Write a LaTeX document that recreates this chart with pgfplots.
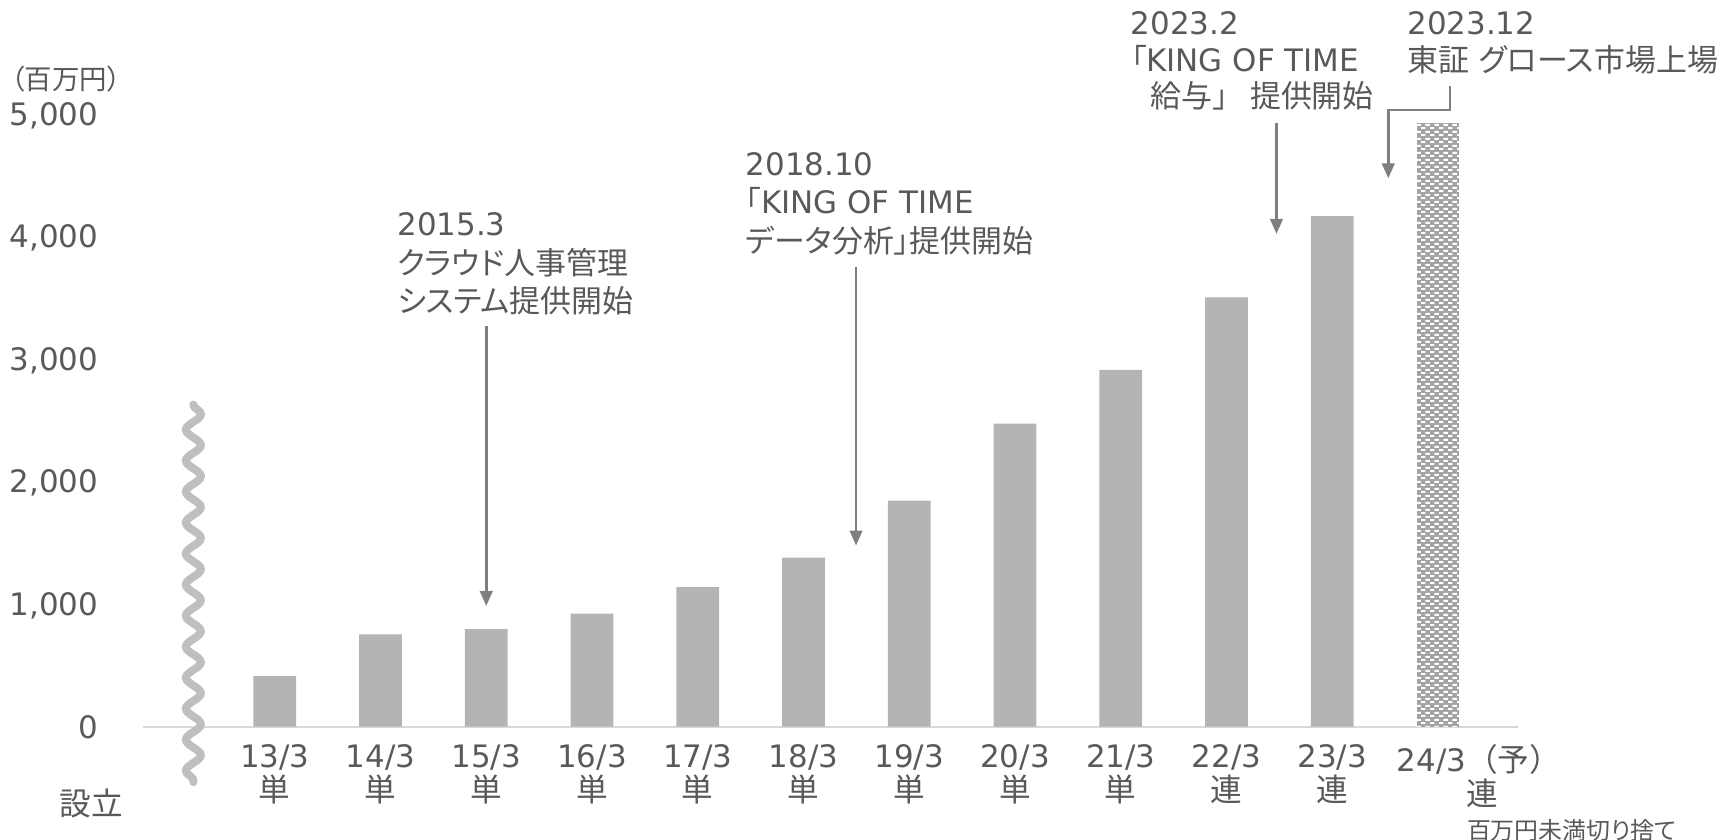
\documentclass[border=0pt]{standalone}
\usepackage{fontspec}
\setmainfont{DejaVu Sans}
\newfontfamily\jp{Noto Sans CJK JP}[RawFeature=+palt]
\newfontfamily\jpfull{Noto Sans CJK JP}
\usepackage{pgfplots}
\pgfplotsset{compat=1.18}
\usetikzlibrary{arrows.meta,patterns,decorations.pathmorphing}
\definecolor{txt}{HTML}{595959}
\definecolor{barc}{HTML}{B4B4B4}
\definecolor{hatch}{HTML}{A3A3A3}
\definecolor{wave}{HTML}{BFBFBF}
\definecolor{axc}{HTML}{D9D9D9}
\definecolor{arr}{HTML}{7F7F7F}
\pgfdeclarepatternformonly{mydashbrick}{\pgfqpoint{0pt}{0pt}}{\pgfqpoint{2.56pt}{2.05pt}}{\pgfqpoint{2.56pt}{2.05pt}}{%
 \pgfpathrectangle{\pgfqpoint{0pt}{0pt}}{\pgfqpoint{1.28pt}{0.6pt}}%
 \pgfpathrectangle{\pgfqpoint{1.28pt}{1.02pt}}{\pgfqpoint{1.28pt}{0.6pt}}%
 \pgfusepath{fill}}
\newcommand{\A}{\fontsize{8.8}{10.8}\selectfont}
\newcommand{\AJ}{\jp\fontsize{8.8}{10.8}\selectfont}
\newcommand{\TJ}[1]{{\jp\fontsize{9}{9.7}\selectfont #1}}
\newcommand{\TJF}[1]{{\jpfull\fontsize{9}{9.7}\selectfont #1}}
\pgfplotstableread{
x y
0 413
1 753
2 796
3 923
4 1138
5 1380
6 1845
7 2472
8 2910
9 3502
10 4164
}\actual
\pgfplotstableread{
x y
11 4922
}\forecast
\begin{document}
\begin{tikzpicture}
\path[use as bounding box] (-1.43,-1.123) rectangle (15.78,7.267);
\begin{axis}[at={(0,0)}, anchor=south west, scale only axis,
 width=13.75cm, height=6.13cm,
 xmin=-1.246, xmax=11.757, ymin=0, ymax=5000, clip=false,
 axis x line*=bottom, axis y line*=left,
 x axis line style={draw=axc, line width=0.02cm, -},
 y axis line style={draw=none},
 major tick length=0pt, tick style={draw=none},
 xtick={0,...,11},
 xticklabels={{13/3\\\TJ{単}},{14/3\\\TJ{単}},{15/3\\\TJ{単}},{16/3\\\TJ{単}},{17/3\\\TJ{単}},{18/3\\\TJ{単}},{19/3\\\TJ{単}},{20/3\\\TJ{単}},{21/3\\\TJ{単}},{22/3\\\TJ{連}},{23/3\\\TJ{連}},{\hspace*{0.82cm}24/3\TJF{（予）}\\\hspace*{0.88cm}\TJ{連}}},
 ytick={0,1000,2000,3000,4000,5000},
 yticklabels={0,{1,000},{2,000},{3,000},{4,000},{5,000}},
 yticklabel style={anchor=base east, inner sep=0pt, xshift=-0.44cm, yshift=-0.113cm, font=\fontsize{8.8}{10}\selectfont, text=txt},
 xticklabel style={anchor=north, inner sep=0pt, yshift=-0.17cm, align=center, font=\fontsize{8.8}{9.7}\selectfont, text=txt},
 ybar, bar width=0.427cm,
]
\addplot[fill=barc, draw=none, bar shift=0pt] table[x=x,y=y]{\actual};
\addplot[fill=hatch, draw=none, bar shift=0pt, postaction={pattern=mydashbrick, pattern color=white}] table[x=x,y=y]{\forecast};

% wavy break line
\draw[wave, line width=0.08cm, line cap=round, decorate, decoration={snake, amplitude=0.075cm, segment length=0.31cm}] (axis cs:-0.77,2628) -- (axis cs:-0.77,-452);

% unit and notes
\node[anchor=west, inner sep=0pt, text=txt, font=\jp\fontsize{7.8}{9}\selectfont] at (axis cs:-2.50,5283) {（百万円）};
\node[anchor=center, inner sep=0pt, text=txt, font=\jp\fontsize{9}{10}\selectfont] at (axis cs:-1.733,-626) {設立};
\node[anchor=east, inner sep=0pt, text=txt, font=\jp\fontsize{6.8}{8}\selectfont] at (axis cs:13.26,-845) {百万円未満切り捨て};

% annotation 1
\node[anchor=base west, inner sep=0pt, text=txt, font=\A] at (axis cs:1.153,4005) {2015.3};
\node[anchor=base west, inner sep=0pt, text=txt, font=\AJ] at (axis cs:1.153,3690) {クラウド人事管理};
\node[anchor=base west, inner sep=0pt, text=txt, font=\AJ] at (axis cs:1.153,3375) {システム提供開始};
\draw[arr, line width=0.027cm, -{Triangle[width=0.125cm,length=0.15cm]}] (axis cs:2,3268) -- (axis cs:2,985);

% annotation 2
\node[anchor=base west, inner sep=0pt, text=txt, font=\A] at (axis cs:4.447,4496) {2018.10};
\node[anchor=base west, inner sep=0pt, text=txt, font=\A] at (axis cs:4.447,4182) {{\jp 「}KING OF TIME};
\node[anchor=base west, inner sep=0pt, text=txt, font=\AJ] at (axis cs:4.447,3868) {データ分析」提供開始};
\draw[arr, line width=0.027cm, -{Triangle[width=0.125cm,length=0.15cm]}] (axis cs:5.497,3752) -- (axis cs:5.497,1478);

% annotation 3
\node[anchor=base west, inner sep=0pt, text=txt, font=\A] at (axis cs:8.09,5642) {2023.2};
\node[anchor=base west, inner sep=0pt, text=txt, font=\A] at (axis cs:8.09,5343) {{\jp 「}KING OF TIME};
\node[anchor=base west, inner sep=0pt, text=txt, font=\AJ] at (axis cs:8.278,5054) {給与」\hspace{0.22cm}提供開始};
\draw[arr, line width=0.027cm, -{Triangle[width=0.125cm,length=0.15cm]}] (axis cs:9.473,4925) -- (axis cs:9.473,4020);

% annotation 4
\node[anchor=base west, inner sep=0pt, text=txt, font=\A] at (axis cs:10.705,5642) {2023.12};
\node[anchor=base west, inner sep=0pt, text=txt, font=\AJ] at (axis cs:10.705,5343) {東証\hspace{0.1cm}グロース市場上場};
\draw[arr, line width=0.027cm, -{Triangle[width=0.125cm,length=0.15cm]}] (axis cs:11.114,5225) -- (axis cs:11.114,5030) -- (axis cs:10.53,5030) -- (axis cs:10.53,4473);
\end{axis}
\end{tikzpicture}
\end{document}
